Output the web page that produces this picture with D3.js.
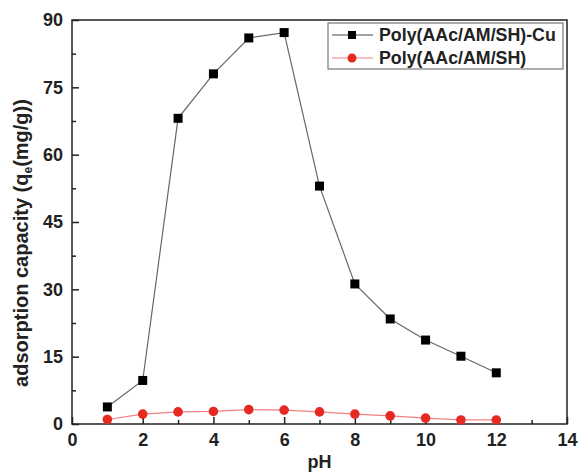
<!DOCTYPE html>
<html>
<head>
<meta charset="utf-8">
<script src="https://cdn.jsdelivr.net/npm/d3@7"></script>
<style>
  body { margin: 0; background: #fff; }
  text { font-family: "Liberation Sans", Arial, sans-serif; font-weight: bold; }
</style>
</head>
<body>
<div id="root"></div>
<script>
// pH values and adsorption capacities
var ph = [1, 2, 3, 4, 5, 6, 7, 8, 9, 10, 11, 12];
var cuValues = [3.8, 9.7, 68.1, 78.0, 86.0, 87.2, 53.0, 31.2, 23.4, 18.7, 15.1, 11.4];
var plainValues = [1.0, 2.2, 2.7, 2.8, 3.2, 3.1, 2.7, 2.2, 1.8, 1.3, 0.9, 0.9];
var xTicks = [0, 2, 4, 6, 8, 10, 12, 14];
var yTicks = [0, 15, 30, 45, 60, 75, 90];
var seriesNames = ["Poly(AAc/AM/SH)-Cu", "Poly(AAc/AM/SH)"];

var width = 579, height = 473;
var plotLeft = 72, plotRight = 567, plotTop = 20, plotBottom = 424;

var svg = d3.select("#root")
    .append("svg")
    .attr("width", width)
    .attr("height", height);

var x = d3.scaleLinear().domain([0, 14]).range([plotLeft, plotRight]);
var y = d3.scaleLinear().domain([0, 90]).range([plotBottom, plotTop]);

// frame
svg.append("rect")
    .attr("x", plotLeft).attr("y", plotTop)
    .attr("width", plotRight - plotLeft).attr("height", plotBottom - plotTop)
    .attr("fill", "none").attr("stroke", "#222").attr("stroke-width", 1.5);

// minor ticks (inward)
var xMinor = d3.range(1, 14, 2);
var yMinor = d3.range(7.5, 90, 15);

var xAxis = svg.append("g")
    .attr("transform", "translate(0," + plotBottom + ")")
    .call(d3.axisBottom(x).tickValues(xTicks).tickSize(-7).tickPadding(9).tickFormat(d3.format("d")));
xAxis.select(".domain").remove();
xAxis.selectAll("line").attr("stroke", "#222").attr("stroke-width", 1.5);
xAxis.selectAll("text").attr("font-size", 18).attr("fill", "#222");

svg.append("g")
    .attr("transform", "translate(0," + plotBottom + ")")
    .call(d3.axisBottom(x).tickValues(xMinor).tickSize(-4).tickFormat(""))
    .call(function (g) { g.select(".domain").remove(); })
    .selectAll("line").attr("stroke", "#222").attr("stroke-width", 1.5);

var yAxis = svg.append("g")
    .attr("transform", "translate(" + plotLeft + ",0)")
    .call(d3.axisLeft(y).tickValues(yTicks).tickSize(-7).tickPadding(9).tickFormat(d3.format("d")));
yAxis.select(".domain").remove();
yAxis.selectAll("line").attr("stroke", "#222").attr("stroke-width", 1.5);
yAxis.selectAll("text").attr("font-size", 18).attr("fill", "#222");

svg.append("g")
    .attr("transform", "translate(" + plotLeft + ",0)")
    .call(d3.axisLeft(y).tickValues(yMinor).tickSize(-4).tickFormat(""))
    .call(function (g) { g.select(".domain").remove(); })
    .selectAll("line").attr("stroke", "#222").attr("stroke-width", 1.5);

// axis titles
svg.append("text")
    .attr("x", x(7)).attr("y", 468)
    .attr("text-anchor", "middle")
    .attr("font-size", 18)
    .attr("fill", "#222")
    .text("pH");

var yTitle = svg.append("text")
    .attr("transform", "translate(28," + 243 + ") rotate(-90)")
    .attr("text-anchor", "middle")
    .attr("font-size", 20)
    .attr("fill", "#222");
yTitle.append("tspan").text("adsorption capacity (q");
yTitle.append("tspan").attr("font-size", 12).attr("dy", 4).text("e");
yTitle.append("tspan").attr("dy", -4).text("(mg/g))");

var line = d3.line()
    .x(function (d, i) { return x(ph[i]); })
    .y(function (d) { return y(d); });

// Cu series
svg.append("path")
    .datum(cuValues)
    .attr("d", line)
    .attr("fill", "none")
    .attr("stroke", "#666")
    .attr("stroke-width", 1.2);

svg.selectAll("rect.cu")
    .data(cuValues)
    .enter()
    .append("rect")
    .attr("class", "cu")
    .attr("x", function (d, i) { return x(ph[i]) - 4.5; })
    .attr("y", function (d) { return y(d) - 4.5; })
    .attr("width", 9)
    .attr("height", 9)
    .attr("fill", "#000");

// plain series
svg.append("path")
    .datum(plainValues)
    .attr("d", line)
    .attr("fill", "none")
    .attr("stroke", "#f28080")
    .attr("stroke-width", 1.2);

svg.selectAll("circle.plain")
    .data(plainValues)
    .enter()
    .append("circle")
    .attr("class", "plain")
    .attr("cx", function (d, i) { return x(ph[i]); })
    .attr("cy", function (d) { return y(d); })
    .attr("r", 4.8)
    .attr("fill", "#e52a22");

// legend
var legend = svg.append("g");
legend.append("rect")
    .attr("x", 328).attr("y", 23)
    .attr("width", 235).attr("height", 46)
    .attr("fill", "#fff").attr("stroke", "#777").attr("stroke-width", 1.2);

var rows = [
    { name: seriesNames[0], line: "#444", fill: "#000", shape: "square", y: 35 },
    { name: seriesNames[1], line: "#f28080", fill: "#e52a22", shape: "circle", y: 58 }
];
rows.forEach(function (r) {
    legend.append("line")
        .attr("x1", 332).attr("x2", 373)
        .attr("y1", r.y).attr("y2", r.y)
        .attr("stroke", r.line).attr("stroke-width", 1.2);
    if (r.shape == "square") {
        legend.append("rect")
            .attr("x", 348).attr("y", r.y - 4)
            .attr("width", 8).attr("height", 8)
            .attr("fill", r.fill);
    } else {
        legend.append("circle")
            .attr("cx", 352).attr("cy", r.y)
            .attr("r", 4.5)
            .attr("fill", r.fill);
    }
    legend.append("text")
        .attr("x", 379).attr("y", r.y + 6)
        .attr("font-size", 17.8)
        .attr("fill", "#222")
        .text(r.name);
});
</script>
</body>
</html>
